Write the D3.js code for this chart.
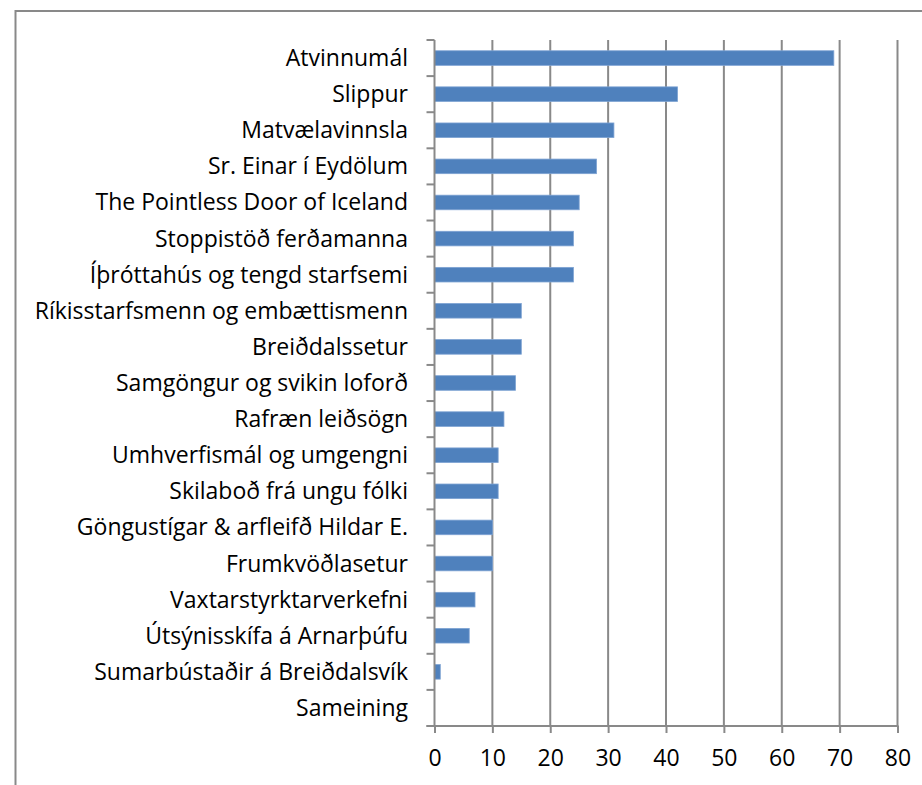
<!DOCTYPE html>
<html lang="is">
<head>
<meta charset="UTF-8" />
<title>Bar chart</title>
<script src="https://cdn.jsdelivr.net/npm/d3@7"></script>
<style>
  body { margin: 0; background: #fff; }
  svg { display: block; }
  text { font-family: "Open Sans", sans-serif; fill: #000; }
</style>
</head>
<body>
<svg width="922" height="785"></svg>
<script>
  const categories = [
    "Atvinnumál", "Slippur", "Matvælavinnsla", "Sr. Einar í Eydölum",
    "The Pointless Door of Iceland", "Stoppistöð ferðamanna", "Íþróttahús og tengd starfsemi",
    "Ríkisstarfsmenn og embættismenn", "Breiðdalssetur", "Samgöngur og svikin loforð",
    "Rafræn leiðsögn", "Umhverfismál og umgengni", "Skilaboð frá ungu fólki",
    "Göngustígar & arfleifð Hildar E.", "Frumkvöðlasetur", "Vaxtarstyrktarverkefni",
    "Útsýnisskífa á Arnarþúfu", "Sumarbústaðir á Breiðdalsvík", "Sameining"
  ];
  const values = [69, 42, 31, 28, 25, 24, 24, 15, 15, 14, 12, 11, 11, 10, 10, 7, 6, 1, 0];
  const xTicks = [0, 10, 20, 30, 40, 50, 60, 70, 80];

  const svg = d3.select("svg");
  const plotLeft = 434.5, plotRight = 897.5, plotTop = 40, plotBottom = 726;
  const gray = "#898989";

  // outer frame (only top and left edges are visible)
  svg.append("path")
    .attr("d", "M15.5,785 V11 H922")
    .attr("fill", "none")
    .attr("stroke", gray)
    .attr("stroke-width", 2);

  const x = d3.scaleLinear().domain([0, 80]).range([plotLeft, plotRight]);
  const band = (plotBottom - plotTop) / categories.length;

  // vertical gridlines
  svg.append("g").selectAll("line")
    .data(xTicks.slice(1))
    .join("line")
    .attr("x1", d => x(d)).attr("x2", d => x(d))
    .attr("y1", plotTop).attr("y2", plotBottom)
    .attr("stroke", gray).attr("stroke-width", 2);

  // bars
  svg.append("g").selectAll("rect")
    .data(values)
    .join("rect")
    .attr("x", x(0))
    .attr("y", (d, i) => plotTop + i * band + band / 2 - 7.3)
    .attr("width", d => x(d) - x(0))
    .attr("height", 14.6)
    .attr("fill", "#4f81bd")
    .attr("stroke", "#7ea3d3")
    .attr("stroke-width", d => d > 0 ? 0.8 : 0);

  // x axis
  const xAxis = svg.append("g").attr("transform", `translate(0,${plotBottom})`)
    .call(d3.axisBottom(x).tickValues(xTicks).tickSize(7).tickPadding(17).tickSizeOuter(0));
  xAxis.select(".domain").remove();
  xAxis.selectAll("line").attr("stroke", gray).attr("stroke-width", 2);
  xAxis.selectAll("text").attr("font-size", 23).style("font-family", "Open Sans, sans-serif").attr("fill", "#000");
  svg.append("line")
    .attr("x1", plotLeft - 8).attr("x2", plotRight + 1)
    .attr("y1", plotBottom).attr("y2", plotBottom)
    .attr("stroke", gray).attr("stroke-width", 2);

  // y axis line and category ticks at band boundaries
  svg.append("line")
    .attr("x1", plotLeft).attr("x2", plotLeft)
    .attr("y1", plotTop).attr("y2", plotBottom)
    .attr("stroke", gray).attr("stroke-width", 2);
  svg.append("g").selectAll("line")
    .data(d3.range(categories.length + 1))
    .join("line")
    .attr("x1", plotLeft - 8).attr("x2", plotLeft)
    .attr("y1", i => plotTop + i * band).attr("y2", i => plotTop + i * band)
    .attr("stroke", gray).attr("stroke-width", 2);

  // category labels
  svg.append("g").selectAll("text")
    .data(categories)
    .join("text")
    .attr("x", 408)
    .attr("y", (d, i) => plotTop + i * band + band / 2 + 8)
    .attr("text-anchor", "end")
    .attr("font-size", 23)
    .text(d => d);
</script>
</body>
</html>
